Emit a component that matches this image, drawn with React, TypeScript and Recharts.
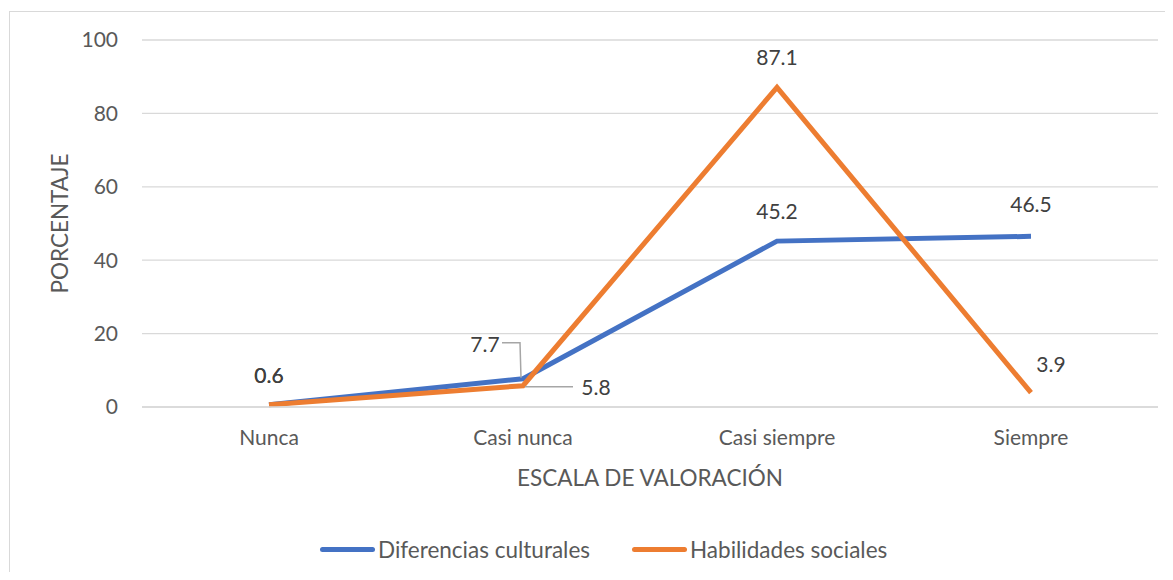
import React from "react";
import { LineChart, Line, XAxis, YAxis, CartesianGrid, LabelList, Legend, Label } from "recharts";

const categories = ["Nunca", "Casi nunca", "Casi siempre", "Siempre"];
const diferencias = [0.6, 7.7, 45.2, 46.5];
const habilidades = [0.6, 5.8, 87.1, 3.9];
const yTicks = [0, 20, 40, 60, 80, 100];

const data = categories.map((c, i) => ({ cat: c, dif: diferencias[i], hab: habilidades[i] }));

const BLUE = "#4472C4";
const ORANGE = "#ED7D31";
const FONT = "Lato, 'Open Sans', sans-serif";
const TEXT = "#595959";

// label offsets relative to the point (dx, dy)
const difOffsets: [number, number][] = [[0, -30], [-38, -35], [0, -31], [0, -33]];
const habOffsets: [number, number][] = [[0, -30], [73, 1], [0, -31], [20, -29]];

const makeLabel = (offsets: [number, number][], series: "dif" | "hab") => (props: any) => {
  const { x, y, value, index } = props;
  const [dx, dy] = offsets[index];
  const tx = x + dx;
  const ty = y + dy;
  let leader = null;
  if (index === 1 && series === "dif") {
    leader = (
      <polyline
        points={`${tx + 17},${ty - 1} ${x - 3},${ty - 1} ${x - 2},${y - 1}`}
        fill="none"
        stroke="#A6A6A6"
        strokeWidth={1.5}
      />
    );
  }
  if (index === 1 && series === "hab") {
    leader = (
      <polyline
        points={`${x + 2},${ty} ${tx - 23},${ty}`}
        fill="none"
        stroke="#A6A6A6"
        strokeWidth={1.5}
      />
    );
  }
  return (
    <g>
      {leader}
      <text x={tx} y={ty} textAnchor="middle" dominantBaseline="central" fill="#404040" fontSize={21} fontFamily={FONT}>
        {value}
      </text>
    </g>
  );
};

const LegendContent = () => {
  const items = [
    { name: "Diferencias culturales", color: BLUE },
    { name: "Habilidades sociales", color: ORANGE },
  ];
  return (
    <div style={{ display: "flex", alignItems: "center", fontFamily: FONT, fontSize: 22.5, color: TEXT, height: 40 }}>
      {items.map((it, i) => (
        <div key={i} style={{ display: "flex", alignItems: "center", marginRight: i === 0 ? 42 : 0 }}>
          <div style={{ width: 55, height: 5, borderRadius: 3, background: it.color, marginRight: 3 }} />
          <span>{it.name}</span>
        </div>
      ))}
    </div>
  );
};

export default function App() {
  return (
    <div style={{ position: "relative", width: 1165, height: 564, overflow: "hidden", background: "#fff" }}>
      <div
        style={{
          position: "absolute",
          left: 1,
          top: 3,
          width: 1250,
          height: 700,
          border: "1.5px solid #D9D9D9",
          boxSizing: "border-box",
        }}
      />
      <LineChart
        width={1165}
        height={564}
        data={data}
        margin={{ top: 32, right: 15, left: 0, bottom: 3 }}
        style={{ position: "absolute", left: 0, top: 0 }}
      >
        <CartesianGrid vertical={false} stroke="#D9D9D9" strokeWidth={1.3} />
        <XAxis
          dataKey="cat"
          height={122}
          padding={{ left: 127, right: 127 }}
          axisLine={{ stroke: "#D9D9D9", strokeWidth: 1.3 }}
          tickLine={false}
          tickSize={0}
          tickMargin={23}
          tick={{ fill: TEXT, fontSize: 21, fontFamily: FONT }}
        >
          <Label
            value="ESCALA DE VALORACIÓN"
            position="insideTop"
            offset={63}
            style={{ fill: TEXT, fontSize: 22.5, fontFamily: FONT }}
          />
        </XAxis>
        <YAxis
          width={134}
          domain={[0, 100]}
          ticks={yTicks}
          axisLine={false}
          tickLine={false}
          tickSize={0}
          tickMargin={24}
          tick={{ fill: TEXT, fontSize: 21, fontFamily: FONT }}
        >
          <Label
            value="PORCENTAJE"
            angle={-90}
            position="insideLeft"
            offset={52}
            style={{ fill: TEXT, fontSize: 22.5, fontFamily: FONT, textAnchor: "middle" }}
          />
        </YAxis>
        <Legend
          verticalAlign="bottom"
          content={<LegendContent />}
          wrapperStyle={{ left: 312, width: 800, height: 40 }}
        />
        <Line
          dataKey="dif"
          name="Diferencias culturales"
          stroke={BLUE}
          strokeWidth={5}
          dot={false}
          isAnimationActive={false}
        >
          <LabelList dataKey="dif" content={makeLabel(difOffsets, "dif")} />
        </Line>
        <Line
          dataKey="hab"
          name="Habilidades sociales"
          stroke={ORANGE}
          strokeWidth={5}
          dot={false}
          isAnimationActive={false}
        >
          <LabelList dataKey="hab" content={makeLabel(habOffsets, "hab")} />
        </Line>
      </LineChart>
    </div>
  );
}
